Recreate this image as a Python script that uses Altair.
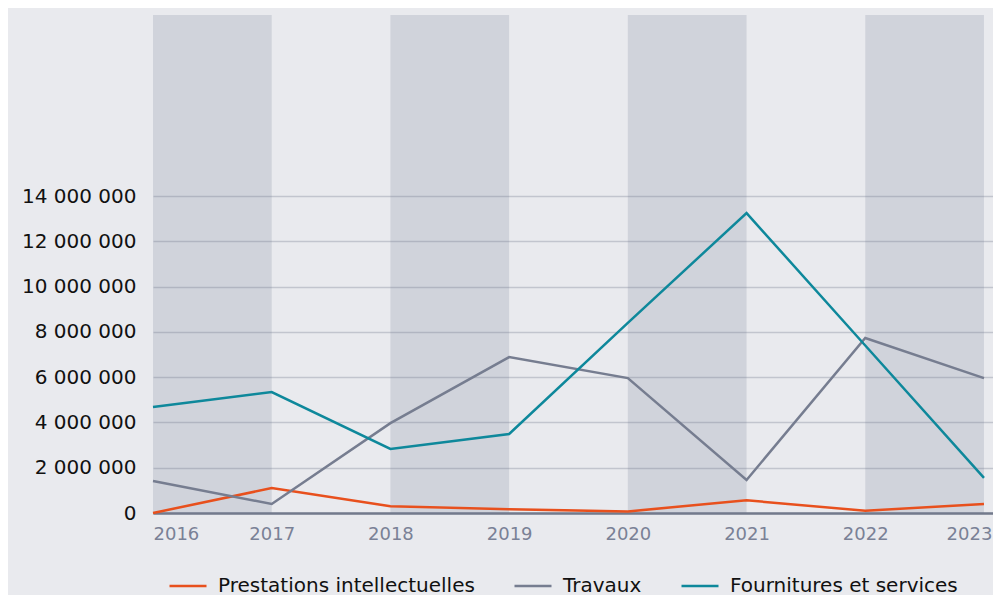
import altair as alt
import pandas as pd

years = [2016, 2017, 2018, 2019, 2020, 2021, 2022, 2023]
series_names = ["Prestations intellectuelles", "Travaux", "Fournitures et services"]
prestations = [0, 1100000, 300000, 170000, 70000, 560000, 100000, 400000]
travaux = [1410000, 400000, 3970000, 6890000, 5960000, 1460000, 7730000, 5960000]
fournitures = [4680000, 5340000, 2830000, 3490000, 8400000, 13250000, 7400000, 1550000]
band_start = [2016, 2018, 2020, 2022]
band_end = [2017, 2019, 2021, 2023]
y_ticks = [0, 2000000, 4000000, 6000000, 8000000, 10000000, 12000000, 14000000]
colors = ["#e8501d", "#767d90", "#0e889b"]

rows = []
for name, vals in zip(series_names, [prestations, travaux, fournitures]):
    for yr, v in zip(years, vals):
        rows.append({"annee": yr, "serie": name, "montant": v})
df = pd.DataFrame(rows)
bands = pd.DataFrame({"start": band_start, "end": band_end})

W, H = 840, 498
xscale = alt.Scale(domain=[2016, 2023.076], nice=False, zero=False)
yscale = alt.Scale(domain=[0, 22000000], nice=False)

band_layer = alt.Chart(bands).mark_rect(color="#6c778f", opacity=0.2).encode(
    x=alt.X("start:Q", scale=xscale),
    x2="end:Q",
    y=alt.value(0),
    y2=alt.value(H),
)

lines = alt.Chart(df).mark_line(strokeWidth=2.5).encode(
    x=alt.X(
        "annee:Q",
        scale=xscale,
        title=None,
        axis=alt.Axis(
            values=years,
            format="d",
            grid=False,
            ticks=False,
            domainColor="#737a8c",
            domainWidth=2.5,
            labelColor="#7a8196",
            labelFont="DejaVu Sans",
            labelFontSize=18,
            labelPadding=12,
            labelFlush=False,
            labelAlign={"condition": {"test": "datum.value == 2016", "value": "left"}, "value": "center"},
            labelOffset={"condition": {"test": "datum.value == 2023", "value": -15}, "value": 0},
        ),
    ),
    y=alt.Y(
        "montant:Q",
        scale=yscale,
        title=None,
        axis=alt.Axis(
            values=y_ticks,
            labelExpr="replace(format(datum.value, ','), /,/g, ' ')",
            domain=False,
            ticks=False,
            gridColor="#c2c5ce",
            gridWidth=1.5,
            labelColor="#111111",
            labelFont="DejaVu Sans",
            labelFontSize=20,
            labelPadding=17,
        ),
    ),
    color=alt.Color(
        "serie:N",
        scale=alt.Scale(domain=series_names, range=colors),
        sort=series_names,
        title=None,
        legend=alt.Legend(
            orient="none",
            legendX=15,
            legendY=551,
            direction="horizontal",
            symbolType="stroke",
            symbolSize=1369,
            symbolStrokeWidth=2.5,
            labelFont="DejaVu Sans",
            labelFontSize=20,
            labelColor="#111111",
            labelOffset=10,
            columnPadding=34,
            labelLimit=400,
        ),
    ),
)

chart = alt.layer(band_layer, lines).properties(
    width=W,
    height=H,
    background="#e9eaee",
    autosize=alt.AutoSizeParams(type="none"),
    padding={"left": 145, "top": 7, "right": 0, "bottom": 90},
).configure_view(stroke=None)

chart.save("out.html", embed_options={"renderer": "svg", "actions": False})
